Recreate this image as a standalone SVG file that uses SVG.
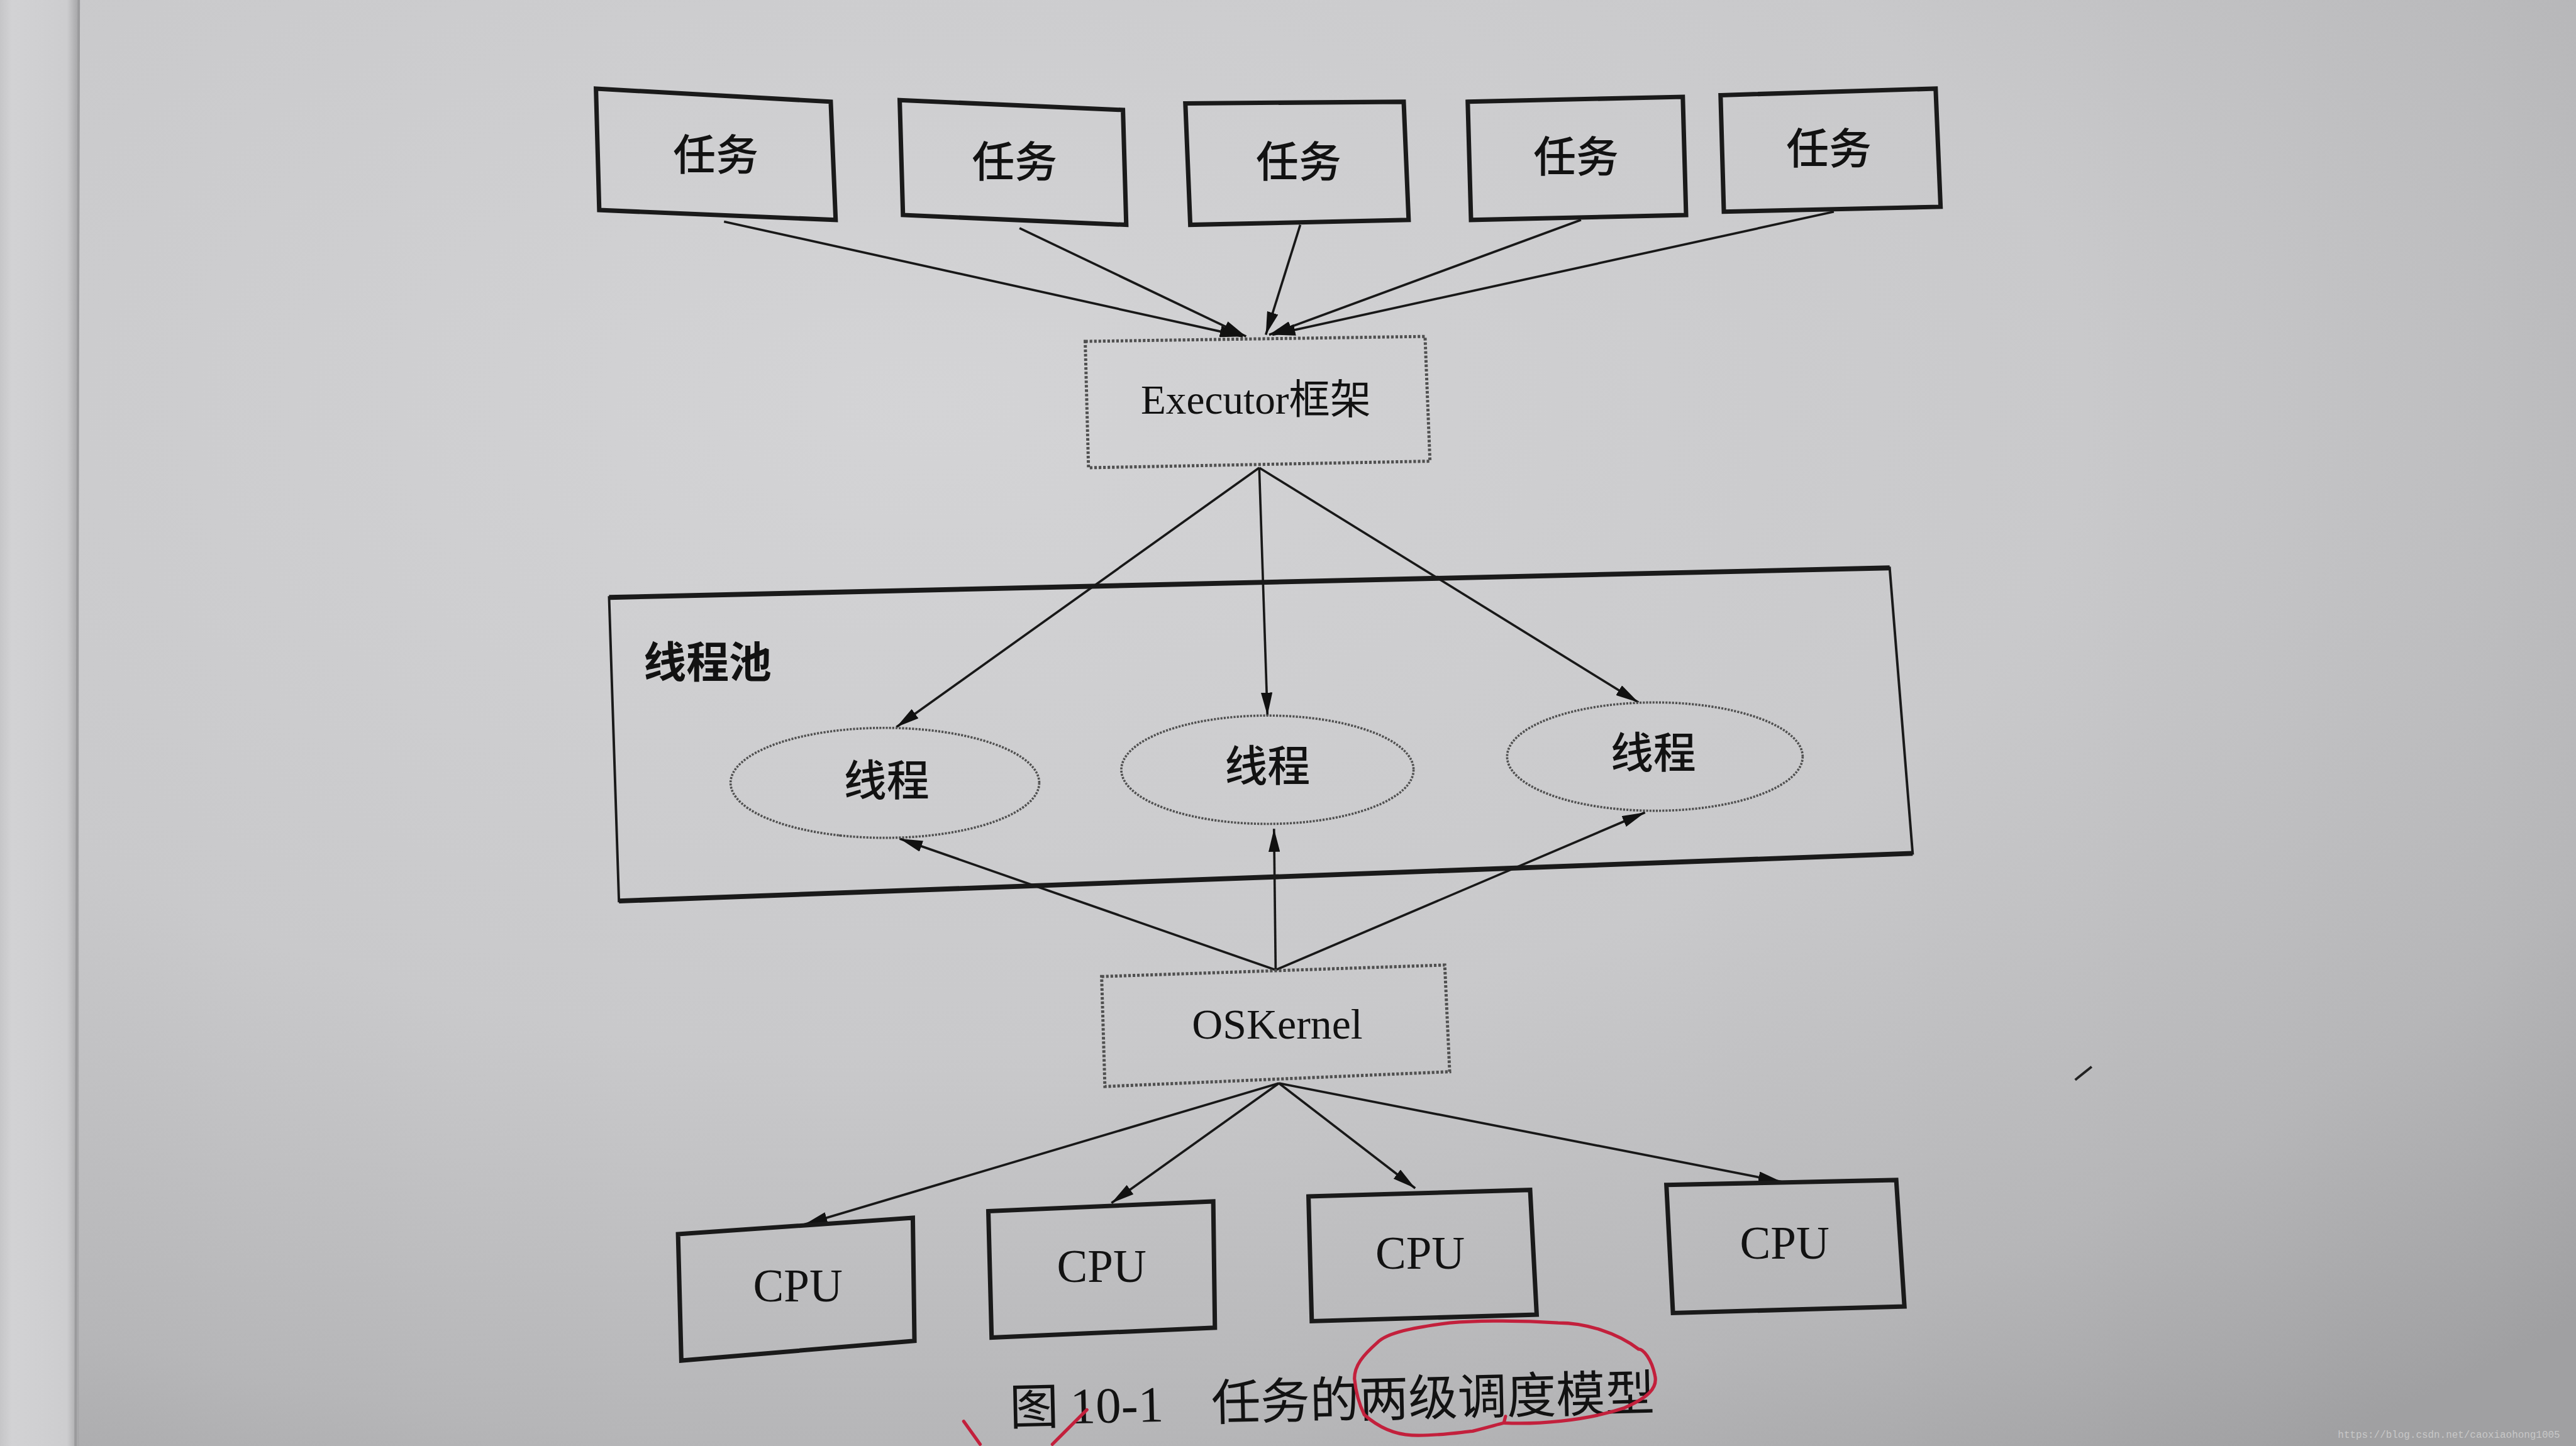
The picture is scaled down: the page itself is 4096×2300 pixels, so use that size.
<svg xmlns="http://www.w3.org/2000/svg" width="4096" height="2300" viewBox="0 0 4096 2300">
<defs>
<radialGradient id="bg" cx="0.36" cy="0.28" r="0.9">
<stop offset="0" stop-color="#d4d4d6"/>
<stop offset="0.5" stop-color="#c9c9cb"/>
<stop offset="0.8" stop-color="#b6b6b8"/>
<stop offset="1" stop-color="#a0a0a2"/>
</radialGradient>
<linearGradient id="edge" x1="0" y1="0" x2="1" y2="0">
<stop offset="0" stop-color="#c6c6c8"/>
<stop offset="0.15" stop-color="#d2d2d4"/>
<stop offset="0.85" stop-color="#cdcdcf"/>
<stop offset="1" stop-color="#a4a4a6"/>
</linearGradient>
<marker id="ah" viewBox="0 0 14 7" refX="14" refY="3.5" markerWidth="14" markerHeight="7" orient="auto" markerUnits="userSpaceOnUse">
<path d="M0,0 L14,3.5 L0,7 z" fill="#111"/>
</marker>
<style>
.box{fill:none;stroke:#1a1a1a;stroke-width:2.7;stroke-linejoin:miter}
.dash{fill:none;stroke:#505050;stroke-width:1.9;stroke-dasharray:1.6 1.1}
.ell{fill:none;stroke:#505050;stroke-width:1.4;stroke-dasharray:1.2 0.8}
.ln{fill:none;stroke:#181818;stroke-width:1.4}
.cj{font-family:"Noto Sans CJK SC","Noto Sans CJK JP",sans-serif;fill:#121212;text-anchor:middle}
.nd{font-weight:500}
.lt{font-family:"Liberation Serif","Noto Sans CJK SC",serif;fill:#121212;text-anchor:middle}
.red{fill:none;stroke:#c3203c;stroke-width:2;stroke-linecap:round;stroke-linejoin:round}
</style>
</defs>
<rect x="0" y="0" width="4096" height="2300" fill="url(#bg)"/>
<g transform="scale(2.6105)">
<rect x="0" y="0" width="48" height="882" fill="url(#edge)"/>
<line x1="48" y1="0" x2="46" y2="882" stroke="#9a9a9c" stroke-width="1.4"/>

<g id="connectors">
<line class="ln" x1="441" y1="135" x2="757" y2="205" marker-end="url(#ah)"/>
<line class="ln" x1="621" y1="139" x2="759" y2="205" marker-end="url(#ah)"/>
<line class="ln" x1="792" y1="137" x2="771" y2="204" marker-end="url(#ah)"/>
<line class="ln" x1="963" y1="134" x2="773" y2="204" marker-end="url(#ah)"/>
<line class="ln" x1="1117" y1="129" x2="775" y2="204" marker-end="url(#ah)"/>
<line class="ln" x1="767" y1="285" x2="546" y2="443" marker-end="url(#ah)"/>
<line class="ln" x1="767" y1="285" x2="772" y2="436" marker-end="url(#ah)"/>
<line class="ln" x1="767" y1="285" x2="998" y2="428" marker-end="url(#ah)"/>
<line class="ln" x1="777" y1="591" x2="548" y2="511" marker-end="url(#ah)"/>
<line class="ln" x1="777" y1="591" x2="776" y2="505" marker-end="url(#ah)"/>
<line class="ln" x1="777" y1="591" x2="1002" y2="495" marker-end="url(#ah)"/>
<line class="ln" x1="779" y1="660" x2="490" y2="746" marker-end="url(#ah)"/>
<line class="ln" x1="779" y1="660" x2="677" y2="733" marker-end="url(#ah)"/>
<line class="ln" x1="779" y1="660" x2="862" y2="724" marker-end="url(#ah)"/>
<line class="ln" x1="779" y1="660" x2="1085" y2="720" marker-end="url(#ah)"/>
</g>

<g id="task1"><polygon class="box" points="363,54 506,62 509,134 365,128"/><text class="cj nd" x="436" y="104" font-size="26">任务</text></g>
<g id="task2"><polygon class="box" points="548,61 684,67 686,137 550,131"/><text class="cj nd" x="618" y="108" font-size="26">任务</text></g>
<g id="task3"><polygon class="box" points="722,63 855,62 858,134 725,137"/><text class="cj nd" x="791" y="108" font-size="26">任务</text></g>
<g id="task4"><polygon class="box" points="894,62 1025,59 1027,131 896,134"/><text class="cj nd" x="960" y="105" font-size="26">任务</text></g>
<g id="task5"><polygon class="box" points="1048,58 1179,54 1182,126 1050,129"/><text class="cj nd" x="1114" y="100" font-size="26">任务</text></g>

<g id="executor"><polygon class="dash" points="661,208 868,205 871,281 663,285"/><text class="lt" x="765" y="252" font-size="25">Executor框架</text></g>

<g id="threadpool">
<polygon fill="none" stroke="#1a1a1a" stroke-width="1.5" points="371,364 1151,346 1165,520 377,549"/>
<line x1="371" y1="364" x2="1151" y2="346" stroke="#1a1a1a" stroke-width="3"/>
<line x1="377" y1="549" x2="1165" y2="520" stroke="#1a1a1a" stroke-width="3"/>
<text class="cj" x="392" y="413" font-size="26" font-weight="bold" style="text-anchor:start">线程池</text>
</g>

<g id="thread1"><ellipse class="ell" cx="539" cy="477" rx="94" ry="33.5"/><text class="cj nd" x="540" y="485" font-size="26">线程</text></g>
<g id="thread2"><ellipse class="ell" cx="772" cy="469" rx="89" ry="33"/><text class="cj nd" x="772" y="476" font-size="26">线程</text></g>
<g id="thread3"><ellipse class="ell" cx="1008" cy="461" rx="90" ry="33"/><text class="cj nd" x="1007" y="468" font-size="26">线程</text></g>

<g id="oskernel"><polygon class="dash" points="671,595 880,588 883,653 673,662"/><text class="lt" x="778" y="633" font-size="26">OSKernel</text></g>

<g id="cpu1"><polygon class="box" points="413,752 556,742 557,817 415,829"/><text class="lt" x="486" y="793" font-size="28">CPU</text></g>
<g id="cpu2"><polygon class="box" points="602,738 739,732 740,809 604,815"/><text class="lt" x="671" y="781" font-size="28">CPU</text></g>
<g id="cpu3"><polygon class="box" points="797,729 932,725 936,801 799,805"/><text class="lt" x="865" y="773" font-size="28">CPU</text></g>
<g id="cpu4"><polygon class="box" points="1015,722 1155,719 1160,796 1019,800"/><text class="lt" x="1087" y="767" font-size="28">CPU</text></g>

<g id="caption" transform="rotate(-1.3 800 860)">
<text class="cj" x="615" y="864" font-size="30" style="text-anchor:start">图</text>
<text class="lt" x="652" y="864" font-size="31" style="text-anchor:start">10-1</text>
<text class="cj" x="738" y="864" font-size="30" style="text-anchor:start">任务的两级调度模型</text>
</g>

<g id="annotations">
<path class="red" d="M917,863 L916,867 C935,868 965,866 989,858 C1003,852 1010,846 1008,838 C1006,828 1001,822 998,822 C985,812 966,806 949,806 C920,804 895,805 883,806 C860,809 845,812 839,818 C830,826 825,832 825,840 C826,850 828,856 831,862 C840,870 850,874 860,874.5 C875,875 887,873 897,872 C905,870 912,868 916,867"/>
<path class="red" d="M587,866 L597,880"/>
<path class="red" d="M662,859 L641,880"/>
<path d="M1264,658 L1274,650" stroke="#222" stroke-width="1.5" fill="none"/>
</g>
<text x="1424" y="876" font-size="6.1" font-family="Liberation Mono, monospace" fill="#c8c8c8">https://blog.csdn.net/caoxiaohong1005</text>
</g>
</svg>
